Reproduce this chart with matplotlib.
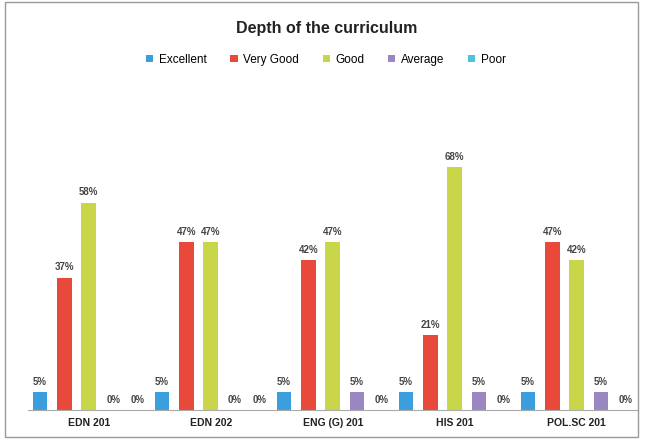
import numpy as np
import matplotlib.pyplot as plt
from matplotlib.patches import Rectangle

# Data
courses = ["EDN 201", "EDN 202", "ENG (G) 201", "HIS 201", "POL.SC 201"]
series = ["Excellent", "Very Good", "Good", "Average", "Poor"]
excellent = [5, 5, 5, 5, 5]
very_good = [37, 47, 42, 21, 47]
good = [58, 47, 47, 68, 42]
average = [0, 0, 5, 5, 5]
poor = [0, 0, 0, 0, 0]
values = [excellent, very_good, good, average, poor]
colors = ["#3a9fdc", "#e8493a", "#c9d64a", "#9a87c2", "#4fc4d8"]

plt.rcParams["font.family"] = ["Liberation Sans", "DejaVu Sans"]

fig = plt.figure(figsize=(6.46, 4.41), dpi=100)
fig.patches.append(Rectangle((0.008, 0.01), 0.98, 0.985, transform=fig.transFigure,
                             fill=False, edgecolor="#999999", linewidth=1.0))
ax = fig.add_axes([0.043, 0.07, 0.944, 0.6])

x = np.arange(len(courses))
slot = 0.2
width = 0.12
for i, (name, vals, c) in enumerate(zip(series, values, colors)):
    pos = x - 0.5 + slot * (i + 0.5)
    bars = ax.bar(pos, vals, width, color=c, label=name, edgecolor="none")
    for b, v in zip(bars, vals):
        ax.text(b.get_x() + b.get_width() / 2, v + 1.5, f"{v}%", ha="center",
                va="bottom", fontsize=7, fontweight="bold", color="#444444")

ax.set_xlim(-0.5, len(courses) - 0.5)
ax.set_ylim(0, 74)
ax.set_xticks(x)
ax.set_xticklabels(courses, fontsize=7.5, fontweight="bold", color="#222222")
ax.tick_params(axis="x", length=0, pad=6)
ax.set_yticks([])
for s in ["top", "right", "left"]:
    ax.spines[s].set_visible(False)
ax.spines["bottom"].set_color("#aaaaaa")

fig.text(0.505, 0.935, "Depth of the curriculum", ha="center", va="center",
         fontsize=11.5, fontweight="bold", color="#222222")
fig.legend(loc="center", bbox_to_anchor=(0.505, 0.865), ncol=5, frameon=False,
           fontsize=8.5, handlelength=0.6, handleheight=0.6, handletextpad=0.5,
           columnspacing=2.0)

fig.savefig("out.png", dpi=100)
